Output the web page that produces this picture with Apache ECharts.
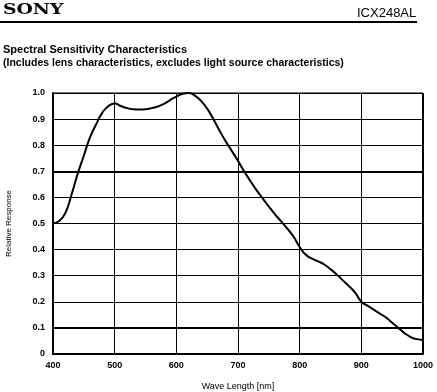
<!DOCTYPE html>
<html>
<head>
<meta charset="utf-8">
<script src="https://cdn.jsdelivr.net/npm/echarts@6/dist/echarts.min.js"></script>
<style>html,body{margin:0;padding:0;background:#fff;}#c{width:437px;height:392px;}</style>
</head>
<body>
<div id="c"></div>
<script>
var wavelengths = [400,410,420,430,440,450,460,470,480,490,500,510,520,530,540,550,560,570,580,590,600,610,620,630,640,650,660,670,680,690,700,710,720,730,740,750,760,770,780,790,800,810,820,830,840,850,860,870,880,890,900,910,920,930,940,950,960,970,980,990,1000];
var response = [0.50,0.51,0.54,0.61,0.69,0.76,0.83,0.88,0.925,0.95,0.96,0.95,0.942,0.938,0.937,0.938,0.942,0.948,0.958,0.973,0.986,0.997,1.0,0.99,0.97,0.94,0.90,0.856,0.815,0.778,0.74,0.70,0.663,0.628,0.596,0.565,0.535,0.508,0.48,0.45,0.41,0.38,0.365,0.355,0.343,0.325,0.305,0.282,0.26,0.235,0.20,0.185,0.17,0.155,0.14,0.12,0.10,0.08,0.065,0.057,0.054];
var xTickLabels = ['400','500','600','700','800','900','1000'];
var yTickLabels = ['0','0.1','0.2','0.3','0.4','0.5','0.6','0.7','0.8','0.9','1.0'];
var thickGridValues = [0.1, 0.7];
var rightBorderValue = 1000;

var chart = echarts.init(document.getElementById('c'));
var pts = wavelengths.map(function(w,i){return [w, response[i]];});
var font = 'Liberation Sans, Arial, sans-serif';
var mk = thickGridValues.map(function(v){return {yAxis: v};});
mk.push({xAxis: rightBorderValue});

chart.setOption({
  animation: false,
  backgroundColor: '#fff',
  grid: {left: 53, right: 14, top: 93, bottom: 38, show: true, borderColor: '#000', borderWidth: 1, containLabel: false, outerBoundsMode: 'none'},
  graphic: [
    {type: 'text', x: 3, y: 3, style: {text: 'SONY', font: 'bold 15px "DejaVu Serif", serif', fill: '#000', textVerticalAlign: 'top'}, scaleX: 1.25},
    {type: 'text', x: 357, y: 7, style: {text: 'ICX248AL', font: '13px ' + font, fill: '#000', textVerticalAlign: 'top'}},
    {type: 'rect', shape: {x: 0, y: 21, width: 417, height: 2}, style: {fill: '#000'}},
    {type: 'text', x: 3, y: 44, style: {text: 'Spectral Sensitivity Characteristics', font: 'bold 11px ' + font, fill: '#000', textVerticalAlign: 'top'}},
    {type: 'text', x: 3, y: 58, style: {text: '(Includes lens characteristics, excludes light source characteristics)', font: 'bold 10.5px ' + font, fill: '#000', textVerticalAlign: 'top'}}
  ],
  xAxis: {
    type: 'value', min: 400, max: 1000, interval: 100,
    name: 'Wave Length [nm]', nameLocation: 'middle', nameGap: 28,
    nameTextStyle: {color: '#000', fontSize: 9, fontFamily: font},
    axisLine: {show: true, lineStyle: {color: '#000', width: 2}},
    axisTick: {show: false},
    axisLabel: {color: '#000', fontSize: 9, fontWeight: 'bold', fontFamily: font, margin: 7,
      formatter: function(v){ var i = xTickLabels.indexOf(String(v)); return i >= 0 ? xTickLabels[i] : ''; }},
    splitLine: {show: true, lineStyle: {color: '#000', width: 1}}
  },
  yAxis: {
    type: 'value', min: 0, max: 1, interval: 0.1,
    name: 'Relative Response', nameLocation: 'middle', nameGap: 40, nameRotate: 90,
    nameTextStyle: {color: '#000', fontSize: 8, fontFamily: font},
    axisLine: {show: true, lineStyle: {color: '#000', width: 2}},
    axisTick: {show: false},
    axisLabel: {color: '#000', fontSize: 9, fontWeight: 'bold', fontFamily: font, margin: 8,
      formatter: function(v){ return yTickLabels[Math.round(v*10)]; }},
    splitLine: {show: true, lineStyle: {color: '#000', width: 1}}
  },
  series: [{
    type: 'line', data: pts, smooth: 0.5, showSymbol: false,
    lineStyle: {color: '#000', width: 2},
    markLine: {silent: true, symbol: 'none', label: {show: false},
      lineStyle: {color: '#000', width: 2, type: 'solid'}, data: mk}
  }]
});
</script>
</body>
</html>
